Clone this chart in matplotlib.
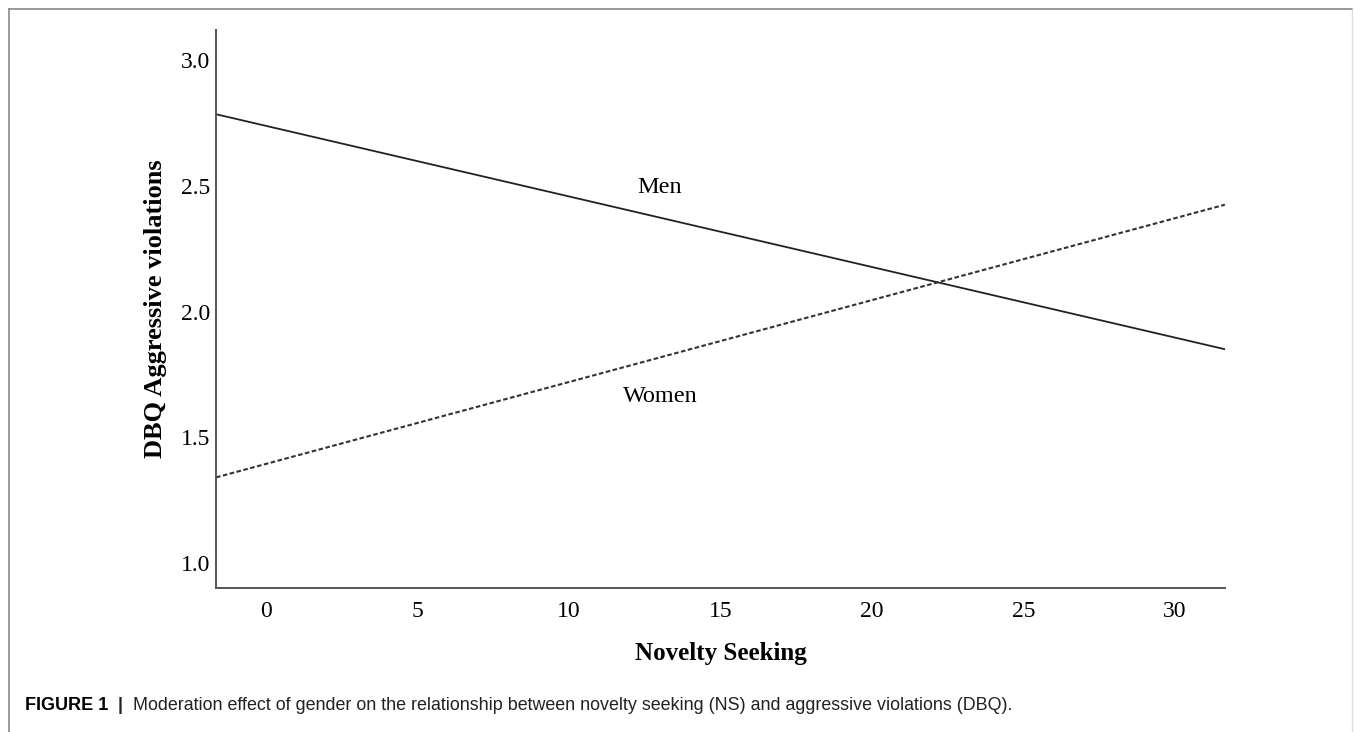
import matplotlib
matplotlib.use("Agg")
import matplotlib.pyplot as plt
from matplotlib.lines import Line2D

# data (line endpoints at the axis edges)
ns_range = [-1.65, 31.65]
men = [2.785, 1.85]
women = [1.34, 2.425]
x_ticks = [0, 5, 10, 15, 20, 25, 30]
y_ticks = [1.0, 1.5, 2.0, 2.5, 3.0]

plt.rcParams['font.family'] = ['Liberation Serif', 'DejaVu Serif']

fig = plt.figure(figsize=(13.55, 7.32), dpi=100)
ax = fig.add_axes([0.1594, 0.1967, 0.7446, 0.7623])

ax.plot(ns_range, men, color="#222222", lw=1.3)
ax.plot(ns_range, women, color="#333333", lw=1.5, linestyle=(0, (2.2, 1.2)))

ax.text(13.0, 2.47, "Men", fontsize=17.5, ha="center", va="baseline")
ax.text(13.0, 1.64, "Women", fontsize=17.5, ha="center", va="baseline")

ax.set_xlim(ns_range)
ax.set_ylim(0.90, 3.12)
ax.set_xticks(x_ticks)
ax.set_yticks(y_ticks)
ax.set_yticklabels([f"{v:.1f}" for v in y_ticks])
ax.tick_params(length=0, labelsize=17)
ax.tick_params(axis="x", pad=9)
ax.tick_params(axis="y", pad=4)

for side in ["top", "right"]:
    ax.spines[side].set_visible(False)
for side in ["left", "bottom"]:
    ax.spines[side].set_color("#555555")
    ax.spines[side].set_linewidth(1.4)

ax.set_xlabel("Novelty Seeking", fontsize=18, fontweight="bold", labelpad=15)
ax.set_ylabel("DBQ Aggressive violations", fontsize=19, fontweight="bold", labelpad=10)

# frame around the figure
fx0, fy1, fx1 = 9 / 1355, 1 - 9 / 732, 1352 / 1355
fig.add_artist(Line2D([fx0, fx0], [0, fy1], color="#888888", lw=1.2))
fig.add_artist(Line2D([fx0, fx1], [fy1, fy1], color="#888888", lw=1.2))
fig.add_artist(Line2D([fx1, fx1], [0, fy1], color="#dddddd", lw=1.0))

sans = ["Liberation Sans", "DejaVu Sans"]
cap_y = 1 - 706 / 732
fig.text(25 / 1355, cap_y, "FIGURE 1", fontsize=13, fontweight="bold",
         family=sans, va="center", ha="left")
fig.text(118 / 1355, cap_y, "|", fontsize=13, fontweight="bold", family=sans,
         va="center", ha="left", color="#222222")
fig.text(133 / 1355, cap_y,
         "Moderation effect of gender on the relationship between novelty seeking (NS) and aggressive violations (DBQ).",
         fontsize=12.9, family=sans, va="center", ha="left", color="#222222")

fig.savefig("out.png", dpi=100)
